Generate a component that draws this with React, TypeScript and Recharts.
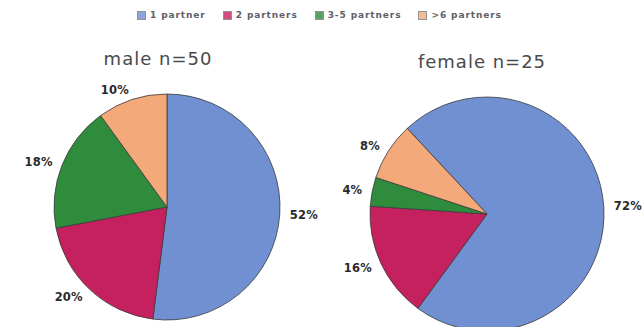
import { PieChart, Pie, Cell } from 'recharts'

const categories = ['1 partner', '2 partners', '3-5 partners', '>6 partners']
const maleValues = [52, 20, 18, 10]
const femaleValues = [72, 16, 4, 8]
const maleTitle = 'male n=50'
const femaleTitle = 'female n=25'

const COLORS = ['#7190d2', '#c6215f', '#2f8c3d', '#f4a97a']
const RADIAN = Math.PI / 180

const maleData = categories.map((name, i) => ({ name, value: maleValues[i] }))
const femaleData = categories.map((name, i) => ({ name, value: femaleValues[i] }))

interface LabelProps {
  cx: number
  cy: number
  midAngle: number
  outerRadius: number
  value: number
}

function renderLabel({ cx, cy, midAngle, outerRadius, value }: LabelProps) {
  const r = outerRadius + 10
  const cos = Math.cos(-midAngle * RADIAN)
  const sin = Math.sin(-midAngle * RADIAN)
  const x = cx + r * cos
  const y = cy + r * sin
  return (
    <text
      x={x}
      y={y}
      textAnchor={cos >= 0 ? 'start' : 'end'}
      dominantBaseline="central"
      fontFamily="'DejaVu Sans', sans-serif"
      fontWeight="bold"
      fontSize={11.5}
      letterSpacing={0.2}
      fill="#2a2a2a"
    >
      {value}%
    </text>
  )
}

// legend sits above the chart as plain html so it doesn't push the pies down
function LegendRow() {
  return (
    <div
      style={{
        position: 'absolute',
        top: 10,
        left: 137,
        display: 'flex',
        gap: 17,
        fontFamily: "'DejaVu Sans', sans-serif",
        fontSize: 9,
        letterSpacing: 0.9,
        color: '#5e5e68',
        fontWeight: 600,
      }}
    >
      {categories.map((c, i) => (
        <span key={c} style={{ display: 'flex', alignItems: 'center', gap: 4 }}>
          <span style={{ width: 7, height: 7, background: COLORS[i], border: '1px solid #777', opacity: 0.8 }} />
          {c}
        </span>
      ))}
    </div>
  )
}

const titleStyle = {
  fontFamily: "'DejaVu Sans', sans-serif",
  fontSize: 18,
  letterSpacing: 1,
  fill: '#4a4a4a',
}

export default function App() {
  return (
    <div style={{ position: 'absolute', left: 0, top: 0, width: 644, height: 327, background: '#fff' }}>
      <PieChart width={644} height={327} margin={{ top: 0, right: 0, bottom: 0, left: 0 }}>
        <Pie
          data={maleData}
          dataKey="value"
          nameKey="name"
          cx={167}
          cy={207}
          outerRadius={113}
          startAngle={90}
          endAngle={-270}
          stroke="#3a3a3a"
          strokeWidth={0.8}
          label={renderLabel}
          labelLine={false}
          isAnimationActive={false}
        >
          {maleData.map((d, i) => (
            <Cell key={d.name} fill={COLORS[i]} />
          ))}
        </Pie>
        <Pie
          data={femaleData}
          dataKey="value"
          nameKey="name"
          cx={487}
          cy={214}
          outerRadius={117}
          startAngle={133}
          endAngle={-227}
          stroke="#3a3a3a"
          strokeWidth={0.8}
          label={renderLabel}
          labelLine={false}
          isAnimationActive={false}
        >
          {femaleData.map((d, i) => (
            <Cell key={d.name} fill={COLORS[i]} />
          ))}
        </Pie>
        <text x={158} y={65} textAnchor="middle" style={titleStyle}>{maleTitle}</text>
        <text x={482} y={68} textAnchor="middle" style={titleStyle}>{femaleTitle}</text>
      </PieChart>
      <LegendRow />
    </div>
  )
}
